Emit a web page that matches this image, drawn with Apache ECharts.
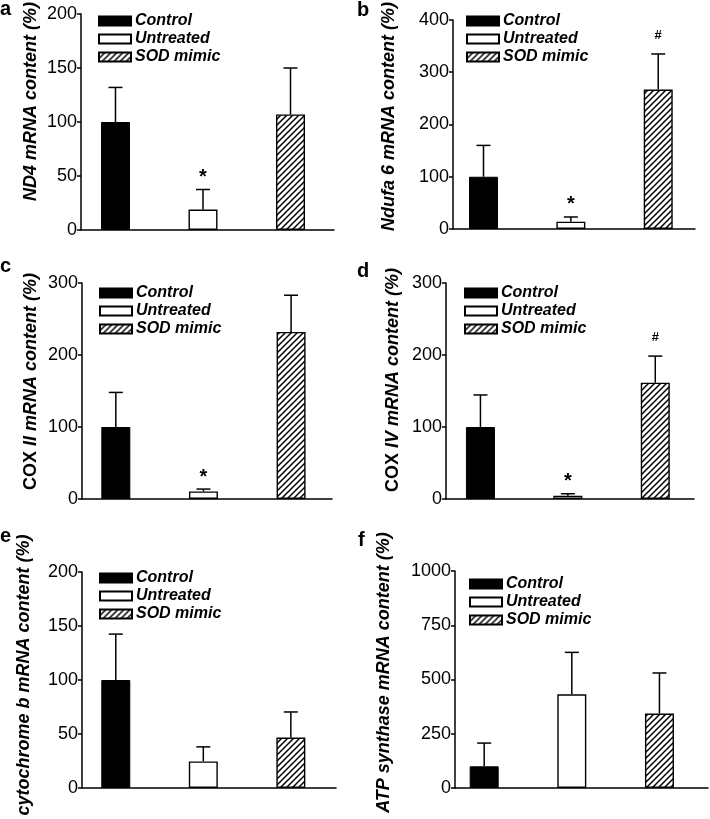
<!DOCTYPE html>
<html>
<head>
<meta charset="utf-8">
<script src="https://cdn.jsdelivr.net/npm/echarts@6/dist/echarts.min.js"></script>
<style>
html,body{margin:0;padding:0;background:#fff;}
#chart{width:710px;height:819px;}
</style>
</head>
<body>
<div id="chart"></div>
<script>
// ---------- data ----------
const groups = ['Control', 'Untreated', 'SOD mimic'];
const panelLetters = ['a', 'b', 'c', 'd', 'e', 'f'];
const yNames = [
  'ND4 mRNA content (%)',
  'Ndufa 6 mRNA content (%)',
  '{u|COX} II mRNA content (%)',
  '{u|COX} IV mRNA content (%)',
  'cytochrome b mRNA content (%)',
  'ATP synthase mRNA content (%)'
];
const yMax = [200, 400, 300, 300, 200, 1000];
const yStep = [50, 100, 100, 100, 50, 250];
const controlMean = [100, 100, 100, 100, 100, 100];
const untreatedMean = [19, 14, 10.5, 4.6, 24.6, 432];
const sodMean = [107, 267, 232, 161.5, 46.7, 343];
const controlUpper = [132, 160, 148, 144.5, 142.5, 207];
const untreatedUpper = [37.5, 23, 13.8, 7.3, 38.1, 625];
const sodUpper = [150, 335, 283, 198.5, 70.4, 530];
const controlMark = ['', '', '', '', '', ''];
const untreatedMark = ['*', '*', '*', '*', '', ''];
const sodMark = ['', '#', '', '#', '', ''];

// ---------- layout ----------
const FONT = 'Liberation Sans, Arial, Helvetica, sans-serif';
const grids = [
  {left: 81, top: 13, width: 253, height: 217},
  {left: 453, top: 13, width: 242, height: 216},
  {left: 82, top: 283, width: 250, height: 216},
  {left: 446, top: 283, width: 248, height: 216},
  {left: 82, top: 572, width: 254, height: 216},
  {left: 455, top: 571, width: 253, height: 217}
];
const xRanges = [
  [-0.394, 2.497], [-0.349, 2.421], [-0.386, 2.467],
  [-0.394, 2.443], [-0.386, 2.516], [-0.333, 2.554]
];
const nameGaps = [41, 55, 42, 44, 49, 62];
const nameShift = [20.5, 8, 9.5, 11, 5, 7];
const legendPos = [
  {left: 98, top: 12}, {left: 466, top: 12}, {left: 99, top: 284},
  {left: 464, top: 284}, {left: 99, top: 569}, {left: 469, top: 575}
];
const letterPos = [[0, -1], [357, 0], [0, 256], [357, 261], [0, 526], [358, 530]];

function hatchCanvas() {
  const s = 6;
  const c = document.createElement('canvas');
  c.width = s; c.height = s;
  const g = c.getContext('2d');
  g.fillStyle = '#fff';
  g.fillRect(0, 0, s, s);
  g.strokeStyle = '#000';
  g.lineWidth = 1.5;
  g.beginPath();
  g.moveTo(-1, s + 1); g.lineTo(s + 1, -1);
  g.moveTo(-1, 1); g.lineTo(1, -1);
  g.moveTo(s - 1, s + 1); g.lineTo(s + 1, s - 1);
  g.stroke();
  return c;
}
const hatch = {image: hatchCanvas(), repeat: 'repeat'};

const groupStyles = [
  {color: '#000', borderColor: '#000', borderWidth: 1},
  {color: '#fff', borderColor: '#000', borderWidth: 1.4},
  {color: hatch, borderColor: '#000', borderWidth: 1.4}
];
const markStyle = {'*': {size: 20, dy: -12}, '#': {size: 13, dy: -19}};

const means = [controlMean, untreatedMean, sodMean];
const uppers = [controlUpper, untreatedUpper, sodUpper];
const marks = [controlMark, untreatedMark, sodMark];

const option = {
  backgroundColor: '#fff',
  animation: false,
  grid: [], xAxis: [], yAxis: [], series: [], legend: [], graphic: []
};

for (let p = 0; p < 6; p++) {
  option.grid.push(Object.assign({containLabel: false}, grids[p]));
  option.xAxis.push({
    type: 'value', gridIndex: p, min: xRanges[p][0], max: xRanges[p][1],
    axisLine: {show: true, onZero: false, lineStyle: {color: '#000', width: 1.5}},
    axisTick: {show: false}, axisLabel: {show: false}, splitLine: {show: false}
  });
  option.yAxis.push({
    type: 'value', gridIndex: p, min: 0, max: yMax[p], interval: yStep[p],
    name: yNames[p], nameLocation: 'middle', nameGap: nameGaps[p],
    nameTextStyle: {
      fontFamily: FONT, fontSize: 18, fontWeight: 'bold', fontStyle: 'italic', color: '#000',
      padding: [0, 0, 0, nameShift[p] * 2],
      rich: {u: {fontFamily: FONT, fontSize: 18, fontWeight: 'bold', fontStyle: 'normal', color: '#000'}}
    },
    axisLine: {show: true, onZero: false, lineStyle: {color: '#000', width: 1.5}},
    axisTick: {show: true, length: 4, lineStyle: {color: '#000', width: 1.5}},
    axisLabel: {fontFamily: FONT, fontSize: 18, color: '#000', margin: 4, formatter: v => String(v)},
    splitLine: {show: false}
  });
  for (let g = 0; g < 3; g++) {
    option.series.push({
      type: 'bar', name: groups[g], xAxisIndex: p, yAxisIndex: p,
      barWidth: 29, barGap: '-100%',
      itemStyle: groupStyles[g],
      data: [[g, means[g][p]]],
      z: 3
    });
  }
  const errData = [0, 1, 2].map(g => [g, means[g][p], uppers[g][p], marks[g][p]]);
  option.series.push({
    type: 'custom', xAxisIndex: p, yAxisIndex: p, silent: true, z: 2,
    data: errData,
    renderItem: function (params, api) {
      const x = api.value(0), m = api.value(1), u = api.value(2);
      const mk = errData[params.dataIndex][3];
      const p0 = api.coord([x, m]);
      const p1 = api.coord([x, u]);
      const ls = {stroke: '#000', lineWidth: 1.5};
      const children = [
        {type: 'line', shape: {x1: p0[0], y1: p0[1], x2: p1[0], y2: p1[1]}, style: ls},
        {type: 'line', shape: {x1: p1[0] - 7, y1: p1[1], x2: p1[0] + 7, y2: p1[1]}, style: ls}
      ];
      if (mk) {
        const st = markStyle[mk];
        children.push({
          type: 'text',
          style: {
            text: mk, x: p1[0], y: p1[1] + st.dy, align: 'center', verticalAlign: 'middle',
            font: 'bold ' + st.size + 'px ' + FONT, fill: '#000'
          }
        });
      }
      return {type: 'group', children: children};
    }
  });
  option.legend.push({
    orient: 'vertical', left: legendPos[p].left, top: legendPos[p].top,
    padding: 0, itemGap: 0, itemWidth: 32, itemHeight: 9, icon: 'rect',
    selectedMode: false, data: groups,
    textStyle: {fontFamily: FONT, fontSize: 16, fontWeight: 'bold', fontStyle: 'italic', color: '#000', lineHeight: 18, padding: [0, 0, 0, -1]}
  });
  option.graphic.push({
    type: 'text', left: letterPos[p][0], top: letterPos[p][1],
    style: {text: panelLetters[p], font: 'bold 20px ' + FONT, fill: '#000'}
  });
}

const chart = echarts.init(document.getElementById('chart'), null, {renderer: 'canvas'});
chart.setOption(option);
</script>
</body>
</html>
